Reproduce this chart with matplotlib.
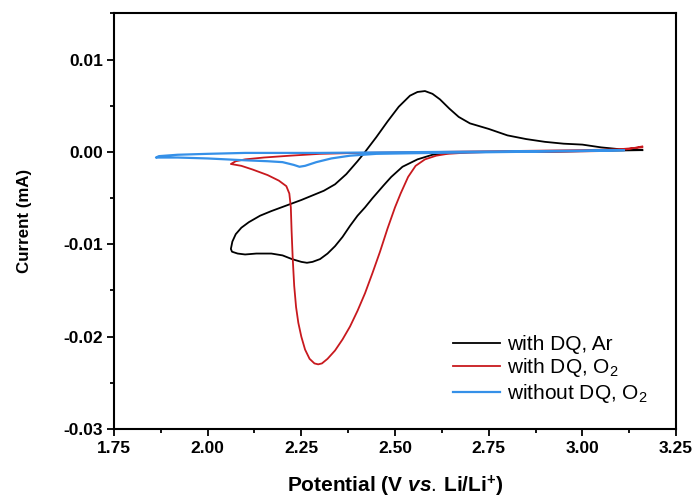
import numpy as np
import matplotlib
matplotlib.use("Agg")
import matplotlib.pyplot as plt
from matplotlib.ticker import MultipleLocator

# cyclic voltammograms, potential in V vs Li/Li+, current in mA
# black: with DQ under Ar
ar_v = [3.16, 3.00, 2.85, 2.70, 2.65, 2.60, 2.56, 2.52, 2.49, 2.47, 2.44, 2.42,
        2.40, 2.38, 2.36, 2.34, 2.32, 2.30, 2.28, 2.265, 2.25, 2.225, 2.20, 2.17,
        2.13, 2.10, 2.08, 2.065, 2.062,
        2.066, 2.075, 2.09, 2.11, 2.14, 2.17, 2.21, 2.25, 2.28, 2.31, 2.34, 2.37,
        2.40, 2.42, 2.45, 2.48, 2.51, 2.54, 2.56, 2.58, 2.60, 2.62, 2.645, 2.67,
        2.70, 2.75, 2.80, 2.85, 2.90, 2.95, 3.00, 3.05, 3.10, 3.16]
ar_i = [0.0002, 0.0001, 0.0000, 0.0000, -0.0001, -0.0003, -0.0008, -0.0016,
        -0.0027, -0.0036, -0.0050, -0.0060, -0.0069, -0.0080, -0.0092, -0.0102,
        -0.0110, -0.0116, -0.0119, -0.0120, -0.0119, -0.0116, -0.0112, -0.0110,
        -0.0110, -0.0111, -0.0110, -0.0108, -0.0105,
        -0.0097, -0.0089, -0.0082, -0.0076, -0.0069, -0.0064, -0.0058, -0.0052,
        -0.0047, -0.0042, -0.0035, -0.0024, -0.0010, 0.0000, 0.0016, 0.0033,
        0.0049, 0.0061, 0.0065, 0.0066, 0.0063, 0.0057, 0.0047, 0.0038, 0.0031,
        0.0025, 0.0018, 0.0014, 0.0011, 0.0009, 0.0008, 0.0005, 0.0003, 0.0002]

# red: with DQ under O2
o2_v = [3.16, 3.12, 3.05, 2.90, 2.75, 2.68, 2.64, 2.61, 2.58, 2.555, 2.535,
        2.515, 2.50, 2.48, 2.46, 2.44, 2.42, 2.40, 2.38, 2.36, 2.34, 2.32, 2.305,
        2.295, 2.285, 2.272, 2.26, 2.25, 2.242, 2.236, 2.231, 2.227, 2.224,
        2.222, 2.218, 2.21, 2.19, 2.16, 2.12, 2.09, 2.062,
        2.075, 2.10, 2.15, 2.22, 2.30, 2.40, 2.60, 2.80, 3.00, 3.10, 3.16]
o2_i = [0.0006, 0.0003, 0.0001, 0.0000, 0.0000, -0.0001, -0.0002, -0.0004,
        -0.0008, -0.0015, -0.0027, -0.0045, -0.0060, -0.0083, -0.0108, -0.0131,
        -0.0153, -0.0172, -0.0189, -0.0203, -0.0215, -0.0224, -0.0229, -0.0230,
        -0.0229, -0.0224, -0.0214, -0.0200, -0.0185, -0.0168, -0.0145, -0.0115,
        -0.0085, -0.0060, -0.0045, -0.0037, -0.0031, -0.0025, -0.0019, -0.0015,
        -0.0013,
        -0.0010, -0.0008, -0.0006, -0.0004, -0.0002, -0.0001, 0.0000, 0.0001,
        0.0002, 0.0003, 0.0005]

# blue: without DQ under O2
bl_v = [3.11, 3.00, 2.80, 2.60, 2.45, 2.38, 2.33, 2.29, 2.26, 2.245, 2.23,
        2.20, 2.16, 2.10, 2.00, 1.92, 1.862,
        1.87, 1.92, 2.00, 2.10, 2.30, 2.60, 2.90, 3.11]
bl_i = [0.0002, 0.0001, 0.0000, -0.0001, -0.0002, -0.0004, -0.0007, -0.0011,
        -0.0015, -0.0016, -0.0014, -0.0011, -0.0010, -0.0009, -0.0007, -0.0006,
        -0.0006,
        -0.00045, -0.0003, -0.0002, -0.0001, -0.0001, 0.0000, 0.0001, 0.0002]

x_ticks = [1.75, 2.00, 2.25, 2.50, 2.75, 3.00, 3.25]
y_ticks = [-0.03, -0.02, -0.01, 0.00, 0.01]

plt.rcParams['font.family'] = ['Liberation Sans', 'DejaVu Sans']
plt.rcParams['axes.unicode_minus'] = False
plt.rcParams['mathtext.fontset'] = 'custom'
plt.rcParams['mathtext.rm'] = 'Liberation Sans'
plt.rcParams['mathtext.bf'] = 'Liberation Sans:bold'
plt.rcParams['mathtext.it'] = 'Liberation Sans:italic:bold'

fig = plt.figure(figsize=(6.92, 4.98), dpi=100)
ax = fig.add_axes([0.1647, 0.1386, 0.8122, 0.8343])

ax.plot(ar_v, ar_i, color='black', lw=1.3, label='with DQ, Ar')
ax.plot(o2_v, o2_i, color='#c8191e', lw=1.3, label='with DQ, O$_2$')
ax.plot(bl_v, bl_i, color='#3590e8', lw=1.6, label='without DQ, O$_2$')

ax.set_xlim(1.75, 3.25)
ax.set_ylim(-0.03, 0.015)
ax.set_xticks(x_ticks)
ax.set_xticklabels(['%.2f' % v for v in x_ticks])
ax.set_yticks(y_ticks)
ax.set_yticklabels(['%.2f' % v for v in y_ticks])
ax.xaxis.set_minor_locator(MultipleLocator(0.125))
ax.yaxis.set_minor_locator(MultipleLocator(0.005))

for side in ['left', 'right', 'top', 'bottom']:
    ax.spines[side].set_linewidth(1.5)
ax.tick_params(which='both', direction='out', width=1.3, top=False, right=False)
ax.tick_params(which='major', length=4.7, labelsize=12.5)
ax.tick_params(axis='x', which='major', pad=4)
ax.tick_params(axis='y', which='major', pad=3)
ax.tick_params(which='minor', length=2.9)
for lab in ax.get_xticklabels() + ax.get_yticklabels():
    lab.set_fontweight('bold')

ax.set_xlabel(r'Potential (V $\mathit{vs.}\,$Li/Li$^{\mathbf{+}}$)',
              fontsize=15, fontweight='bold', labelpad=13)
ax.set_ylabel('Current (mA)', fontsize=12.2, fontweight='bold', labelpad=23)

ax.legend(loc='lower left', frameon=False, fontsize=15, handlelength=2.26,
          handletextpad=0.33, labelspacing=0.12, borderpad=0,
          borderaxespad=0, bbox_to_anchor=(0.603, 0.058))

fig.savefig('out.png', dpi=100)
